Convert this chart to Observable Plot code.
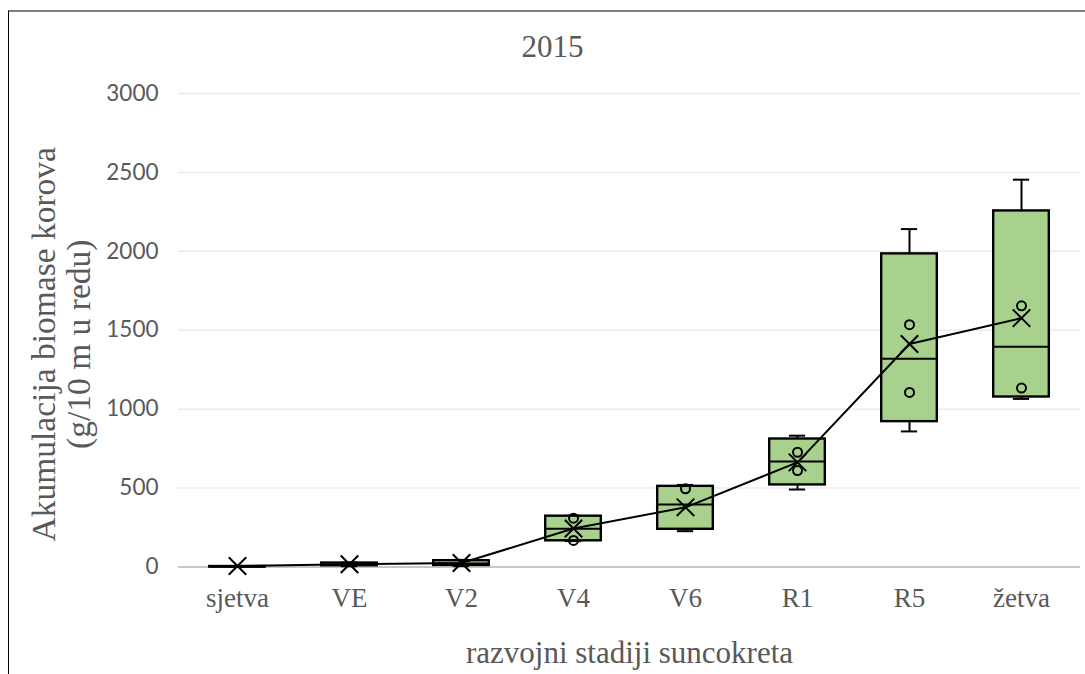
<!DOCTYPE html>
<html>
<head>
<meta charset="utf-8">
<script src="https://cdn.jsdelivr.net/npm/d3@7"></script>
<script src="https://cdn.jsdelivr.net/npm/@observablehq/plot@0.6"></script>
<style>
  html, body { margin: 0; padding: 0; background: #fff; }
  #wrap { position: relative; width: 1085px; height: 674px; overflow: hidden; }
  #frame { position: absolute; left: 8px; top: 10px; width: 1100px; height: 700px;
           border-top: 2px solid #7f7f7f; border-left: 1px solid #000; box-sizing: border-box; pointer-events: none; }
</style>
</head>
<body>
<div id="wrap"><div id="frame"></div></div>
<script>
// ---- data ----
const stages = ["sjetva", "VE", "V2", "V4", "V6", "R1", "R5", "žetva"];
const minV   = [0, 5, 6, 164, 227, 491, 859, 1065];
const q1V    = [0, 8, 10, 166, 239, 520, 921, 1077];
const medV   = [1, 15, 22, 242, 396, 668, 1320, 1396];
const q3V    = [3, 25, 40, 322, 511, 811, 1984, 2256];
const maxV   = [4, 28, 45, 324, 520, 832, 2141, 2454];
const meanV  = [6, 17, 25, 244, 378, 663, 1413, 1577];
const innerStage = ["V4", "V4", "V6", "R1", "R1", "R5", "R5", "žetva", "žetva"];
const innerValue = [309, 168, 495, 727, 611, 1535, 1106, 1655, 1134];
const yTicks = [0, 500, 1000, 1500, 2000, 2500, 3000];

const title = "2015";
const xTitle = "razvojni stadiji suncokreta";
const yTitle = "Akumulacija biomase korova\n(g/10 m u redu)";

const boxes = stages.map((s, i) => ({stage: s, min: minV[i], q1: q1V[i], med: medV[i], q3: q3V[i], max: maxV[i], mean: meanV[i]}));
const inner = innerStage.map((s, i) => ({stage: s, value: innerValue[i]}));

const W = 1085, H = 674;
const mL = 178, mR = 5, mT = 93, mB = 107.5;
const band = (W - mL - mR) / stages.length;
const boxInset = band * 0.25;
const capInset = (band - 17) / 2;

const serif = "'Liberation Serif', 'Times New Roman', serif";
const sans = "Lato, 'Open Sans', sans-serif";
const grey = "#595959";

const chart = Plot.plot({
  width: W, height: H,
  marginLeft: mL, marginRight: mR, marginTop: mT, marginBottom: mB,
  style: {background: "transparent", overflow: "visible"},
  x: {type: "band", domain: stages, paddingInner: 0, paddingOuter: 0},
  y: {domain: [0, 3000]},
  marks: [
    Plot.ruleY(yTicks.filter(d => d > 0), {stroke: "#ececec", strokeWidth: 1.5}),
    Plot.ruleY([0], {stroke: "#c6c6c6", strokeWidth: 1.8}),
    Plot.axisY({ticks: yTicks, tickSize: 0, tickPadding: 20, tickFormat: d => String(d),
      fontSize: 22.5, fontFamily: sans, fill: grey, label: null}),
    Plot.axisX({tickSize: 0, tickPadding: 21, fontSize: 27, fontFamily: serif, fill: grey, label: null}),
    Plot.ruleX(boxes, {x: "stage", y1: "min", y2: "max", stroke: "#000", strokeWidth: 2}),
    Plot.tickY(boxes, {x: "stage", y: "min", stroke: "#000", strokeWidth: 2, insetLeft: capInset, insetRight: capInset}),
    Plot.tickY(boxes, {x: "stage", y: "max", stroke: "#000", strokeWidth: 2, insetLeft: capInset, insetRight: capInset}),
    Plot.barY(boxes, {x: "stage", y1: "q1", y2: "q3", fill: "#a9d18e", stroke: "#000", strokeWidth: 2.4,
      insetLeft: boxInset, insetRight: boxInset}),
    Plot.tickY(boxes, {x: "stage", y: "med", stroke: "#000", strokeWidth: 2, insetLeft: boxInset, insetRight: boxInset}),
    Plot.line(boxes, {x: "stage", y: "mean", stroke: "#000", strokeWidth: 2}),
    Plot.dot(inner, {x: "stage", y: "value", r: 4.5, stroke: "#000", strokeWidth: 2, fill: "none"}),
    Plot.dot(boxes, {x: "stage", y: "mean", symbol: "times", r: 8, stroke: "#000", strokeWidth: 2}),
    Plot.text([title], {frameAnchor: "top", lineAnchor: "middle", dx: -77, dy: -46, fontSize: 31, fontFamily: serif, fill: grey}),
    Plot.text([xTitle], {frameAnchor: "bottom", lineAnchor: "middle", dy: 86, fontSize: 31, fontFamily: serif, fill: grey}),
    Plot.text([yTitle], {frameAnchor: "left", textAnchor: "middle", lineAnchor: "middle", dx: -117, dy: 14, rotate: -90,
      fontSize: 33.5, lineHeight: 1.05, fontFamily: serif, fill: grey})
  ]
});
chart.style.position = "absolute";
chart.style.left = "0";
chart.style.top = "0";
document.getElementById("wrap").appendChild(chart);
</script>
</body>
</html>
